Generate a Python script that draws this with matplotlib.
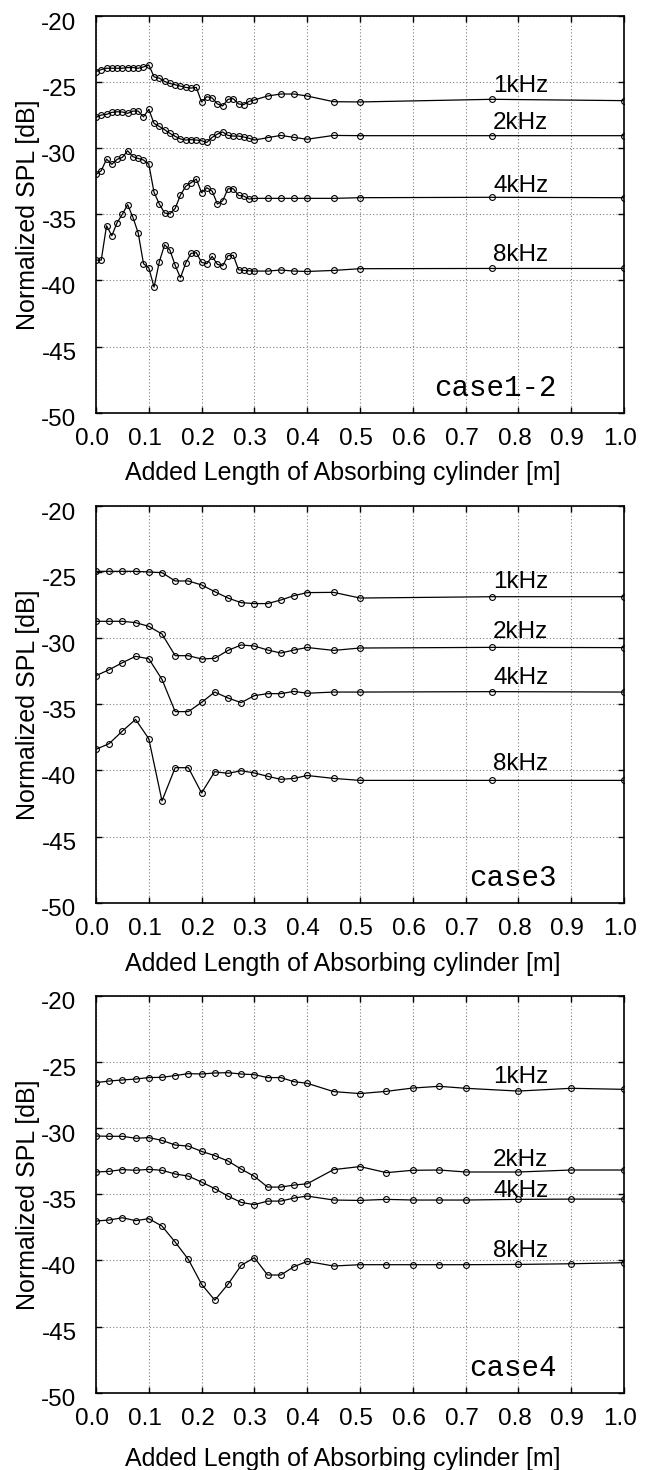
import matplotlib.pyplot as plt
import matplotlib.transforms as mtransforms

plt.rcParams['font.family'] = ['Liberation Sans', 'DejaVu Sans']

# ---------------- data: case1-2 ----------------
x_case12 = [0.00, 0.01, 0.02, 0.03, 0.04, 0.05, 0.06, 0.07, 0.08, 0.09,
            0.10, 0.11, 0.12, 0.13, 0.14, 0.15, 0.16, 0.17, 0.18, 0.19,
            0.20, 0.21, 0.22, 0.23, 0.24, 0.25, 0.26, 0.27, 0.28, 0.29,
            0.30, 0.325, 0.35, 0.375, 0.40, 0.45, 0.50, 0.75, 1.00]
case12_1k = [-24.20, -24.05, -23.95, -23.95, -23.95, -23.95, -23.90, -23.90, -23.95, -23.85,
             -23.70, -24.60, -24.70, -24.95, -25.10, -25.20, -25.30, -25.40, -25.45, -25.40,
             -26.50, -26.10, -26.20, -26.65, -26.80, -26.30, -26.25, -26.65, -26.70, -26.45,
             -26.35, -26.05, -25.90, -25.90, -26.05, -26.48, -26.50, -26.30, -26.40]
case12_2k = [-27.66, -27.49, -27.44, -27.29, -27.24, -27.26, -27.36, -27.19, -27.19, -27.62,
             -27.06, -28.12, -28.35, -28.60, -28.87, -29.10, -29.30, -29.38, -29.35, -29.38,
             -29.43, -29.56, -29.18, -28.93, -28.77, -29.03, -29.08, -29.08, -29.15, -29.25,
             -29.38, -29.20, -29.03, -29.18, -29.32, -29.03, -29.05, -29.05, -29.05]
case12_4k = [-31.98, -31.70, -30.82, -31.22, -30.84, -30.69, -30.19, -30.64, -30.77, -30.89,
             -31.20, -33.34, -34.22, -34.90, -34.95, -34.55, -33.54, -32.88, -32.61, -32.33,
             -33.36, -32.99, -33.24, -34.22, -33.97, -33.06, -33.06, -33.57, -33.62, -33.84,
             -33.79, -33.79, -33.79, -33.79, -33.79, -33.79, -33.74, -33.71, -33.74]
case12_8k = [-38.46, -38.46, -35.86, -36.62, -35.63, -34.98, -34.27, -35.23, -36.41, -38.73,
             -39.04, -40.50, -38.58, -37.30, -37.70, -38.86, -39.79, -38.68, -37.95, -37.90,
             -38.63, -38.73, -38.18, -38.78, -38.89, -38.13, -38.10, -39.19, -39.24, -39.27,
             -39.29, -39.29, -39.21, -39.29, -39.32, -39.24, -39.11, -39.09, -39.09]

# ---------------- data: case3 ----------------
x_case3 = [0.000, 0.025, 0.050, 0.075, 0.100, 0.125, 0.150, 0.175, 0.200, 0.225,
           0.250, 0.275, 0.300, 0.325, 0.350, 0.375, 0.400, 0.450, 0.500, 0.750, 1.000]
case3_1k = [-24.94, -24.94, -24.94, -24.94, -24.99, -25.04, -25.67, -25.67, -25.97, -26.48,
            -26.96, -27.31, -27.38, -27.38, -27.11, -26.78, -26.55, -26.53, -26.96, -26.86, -26.86]
case3_2k = [-28.72, -28.72, -28.72, -28.82, -29.10, -29.68, -31.32, -31.32, -31.57, -31.52,
            -30.92, -30.51, -30.59, -30.89, -31.12, -30.89, -30.70, -30.92, -30.74, -30.69, -30.71]
case3_4k = [-32.83, -32.38, -31.85, -31.37, -31.55, -33.11, -35.55, -35.55, -34.85, -34.07,
            -34.52, -34.87, -34.34, -34.19, -34.19, -34.02, -34.16, -34.07, -34.07, -34.04, -34.07]
case3_8k = [-38.40, -37.97, -37.02, -36.14, -37.60, -42.30, -39.79, -39.79, -41.70, -40.09,
            -40.22, -40.02, -40.19, -40.44, -40.67, -40.60, -40.38, -40.60, -40.75, -40.75, -40.75]

# ---------------- data: case4 ----------------
x_case4 = [0.000, 0.025, 0.050, 0.075, 0.100, 0.125, 0.150, 0.175, 0.200, 0.225,
           0.250, 0.275, 0.300, 0.325, 0.350, 0.375, 0.400, 0.450, 0.500, 0.550,
           0.600, 0.650, 0.700, 0.800, 0.900, 1.000]
case4_1k = [-26.55, -26.43, -26.35, -26.28, -26.17, -26.15, -26.02, -25.87, -25.90, -25.82,
            -25.80, -25.90, -25.95, -26.17, -26.17, -26.48, -26.60, -27.23, -27.38, -27.21,
            -26.96, -26.83, -26.98, -27.19, -26.98, -27.06]
case4_2k = [-30.59, -30.61, -30.61, -30.76, -30.71, -30.92, -31.27, -31.35, -31.75, -32.07,
            -32.48, -33.09, -33.64, -34.45, -34.45, -34.30, -34.20, -33.13, -32.90, -33.36,
            -33.18, -33.16, -33.31, -33.31, -33.16, -33.16]
case4_4k = [-33.31, -33.26, -33.13, -33.18, -33.11, -33.18, -33.46, -33.62, -34.07, -34.57,
            -35.13, -35.61, -35.78, -35.51, -35.51, -35.28, -35.13, -35.43, -35.46, -35.38,
            -35.43, -35.43, -35.43, -35.38, -35.36, -35.36]
case4_8k = [-37.02, -36.94, -36.77, -36.99, -36.84, -37.40, -38.61, -39.92, -41.80, -43.00,
            -41.80, -40.37, -39.79, -41.10, -41.10, -40.47, -40.07, -40.42, -40.32, -40.32,
            -40.32, -40.32, -40.32, -40.30, -40.25, -40.17]

freq_labels = ['1kHz', '2kHz', '4kHz', '8kHz']
case_names = ['case1-2', 'case3', 'case4']
# baseline of the frequency labels in each panel
label_y = [[-25.76, -28.53, -33.32, -38.51],
           [-26.23, -29.99, -33.47, -39.94],
           [-26.61, -32.89, -35.18, -39.72]]

panels = [
    (x_case12, [case12_1k, case12_2k, case12_4k, case12_8k]),
    (x_case3, [case3_1k, case3_2k, case3_4k, case3_8k]),
    (x_case4, [case4_1k, case4_2k, case4_4k, case4_8k]),
]

xticks = [0.0, 0.1, 0.2, 0.3, 0.4, 0.5, 0.6, 0.7, 0.8, 0.9, 1.0]
yticks = [-50, -45, -40, -35, -30, -25, -20]

fig = plt.figure(figsize=(6.56, 14.7), dpi=100)

bottoms = [0.71925, 0.38592, 0.05259]
xlabel_y = [-0.1218, -0.1235, -0.136]

for k, (xs, series) in enumerate(panels):
    ax = fig.add_axes([0.1463, bottoms[k], 0.8049, 0.26986])

    for ys in series:
        ax.plot(xs, ys, color='black', linewidth=0.9, marker='o', markersize=4.2,
                markerfacecolor='none', markeredgecolor='black', markeredgewidth=0.8)

    for lab, ly in zip(freq_labels, label_y[k]):
        ax.text(0.752, ly, lab, fontsize=17.5, ha='left', va='baseline')

    ax.text(0.872, -48.7, case_names[k], fontsize=21, family='Liberation Mono',
            ha='right', va='baseline')

    ax.set_xlim(0, 1.0)
    ax.set_ylim(-50, -20)
    ax.set_xticks(xticks)
    ax.set_xticklabels([f'{t:.1f}' for t in xticks])
    ax.set_yticks(yticks)
    ax.set_yticklabels([str(t) for t in yticks])

    ax.grid(True, linestyle=(0, (1, 2)), color='0.5', linewidth=0.8)
    ax.tick_params(direction='in', top=True, right=True, length=4, width=1,
                   labelsize=17.5)
    ax.tick_params(axis='x', pad=11)
    ax.tick_params(axis='y', pad=14)
    for sp in ax.spines.values():
        sp.set_linewidth(1.2)

    # small offsets of the tick labels as in the original
    dx = mtransforms.ScaledTranslation(-0.04, 0, fig.dpi_scale_trans)
    for lab in ax.get_xticklabels():
        lab.set_transform(lab.get_transform() + dx)
    dy = mtransforms.ScaledTranslation(0, -0.05, fig.dpi_scale_trans)
    for lab in ax.get_yticklabels():
        lab.set_transform(lab.get_transform() + dy)

    ax.set_xlabel('Added Length of Absorbing cylinder [m]', fontsize=18)
    ax.set_ylabel('Normalized SPL [dB]', fontsize=18)
    ax.xaxis.set_label_coords(0.468, xlabel_y[k])
    ax.yaxis.set_label_coords(-0.1057, 0.5)

fig.savefig('out.png', dpi=100)
